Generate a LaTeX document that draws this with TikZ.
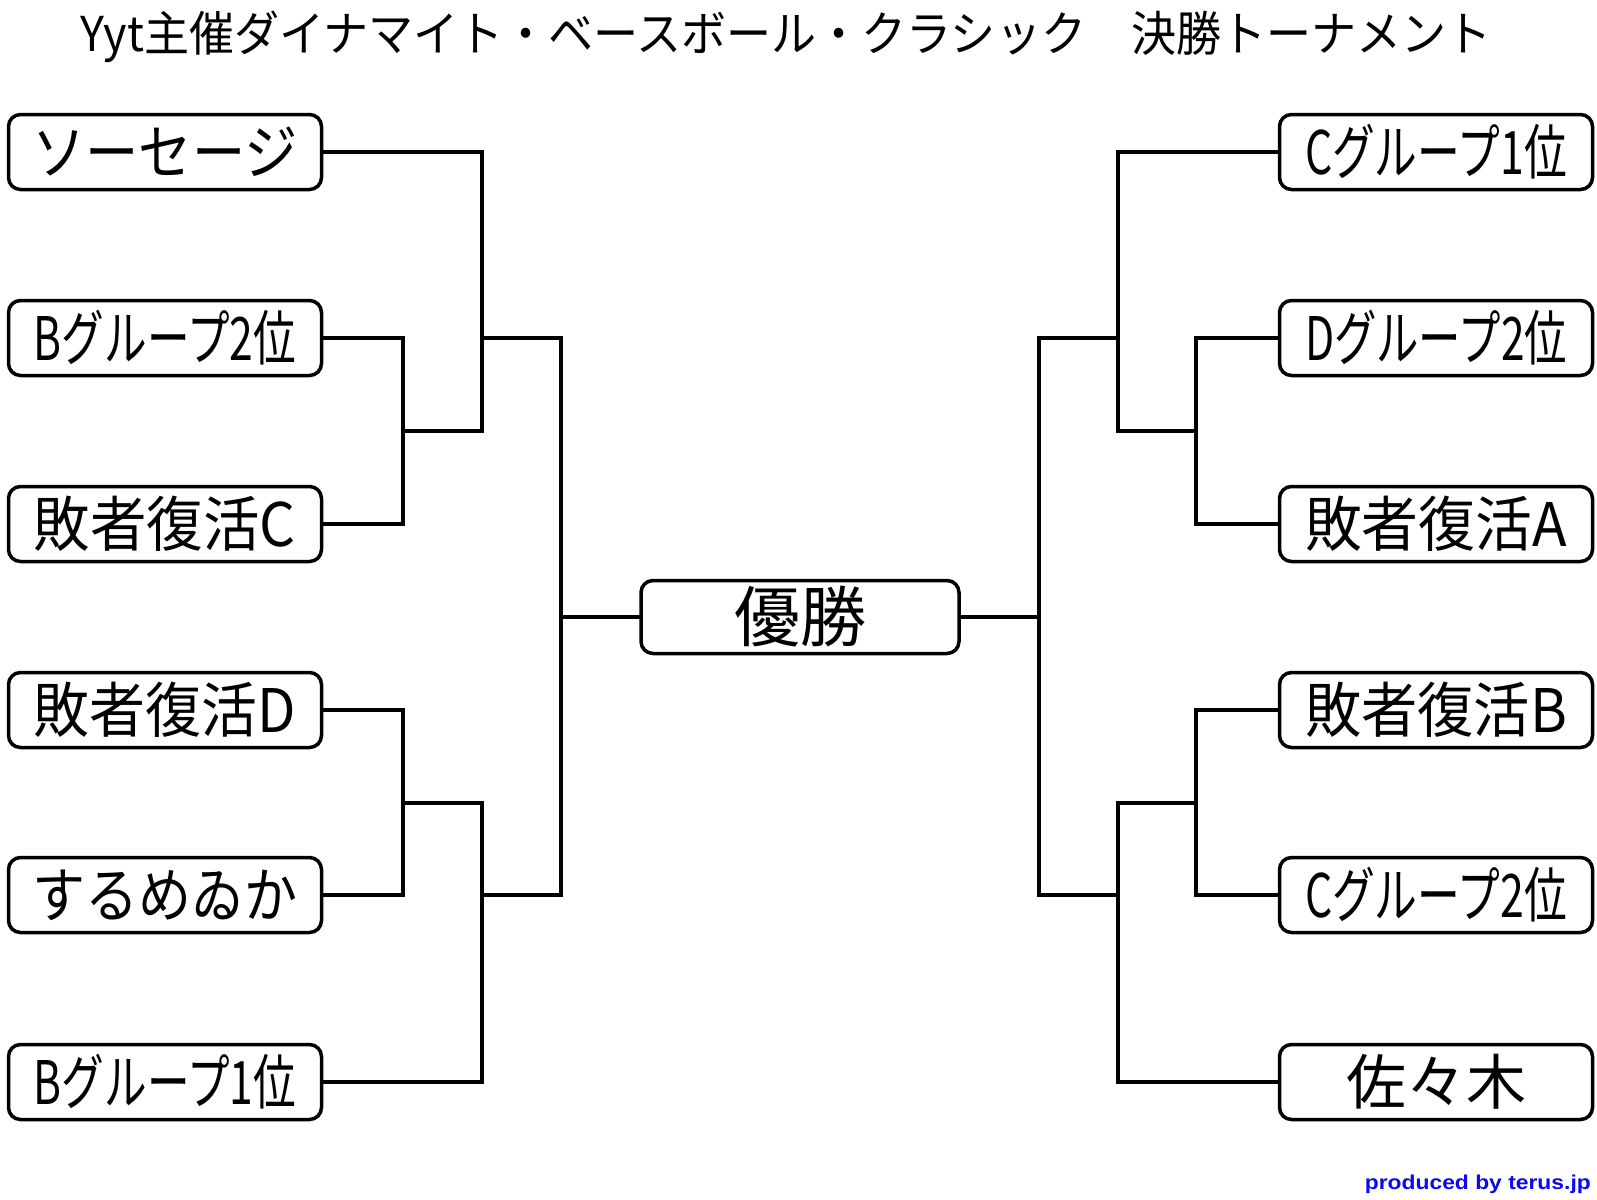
\documentclass[tikz,border=0pt]{standalone}
\usepackage{fontspec}
\usepackage{graphicx}
\setmainfont{Noto Sans CJK JP}
\newfontfamily\footfont{Liberation Sans}
\newcommand\fitw[2]{\sbox0{#2}\ifdim\wd0>#1\relax\resizebox{#1}{\height}{#2}\else\usebox0\fi}
\definecolor{footblue}{RGB}{10,10,235}
\tikzset{
  team/.style={draw, line width=3.5pt, rounded corners=12pt, minimum width=313pt,
    minimum height=75pt, inner sep=0pt, font=\fontsize{60}{66}\selectfont},
  champ/.style={team, minimum width=318pt, minimum height=73pt, font=\fontsize{66}{72}\selectfont},
  wire/.style={line width=3.5pt, line cap=rect},
}
\begin{document}
\begin{tikzpicture}[x=1pt,y=-1pt]
\useasboundingbox (0,0) rectangle (1597,1199);
% title
\node (title) at (786,37) {\fontsize{48}{54}\selectfont\resizebox{1411pt}{\height}{Yyt主催ダイナマイト・ベースボール・クラシック　決勝トーナメント}};
% left teams
\node[team] (L1) at (165,152) {\fitw{265pt}{ソーセージ}};
\node[team] (L2) at (165,338) {\fitw{262pt}{Bグループ2位}};
\node[team] (L3) at (165,524) {\fitw{262pt}{敗者復活C}};
\node[team] (L4) at (165,710) {\fitw{262pt}{敗者復活D}};
\node[team] (L5) at (165,895) {\fitw{265pt}{するめゐか}};
\node[team] (L6) at (165,1082) {\fitw{262pt}{Bグループ1位}};
% right teams
\node[team] (R1) at (1436,152) {\fitw{262pt}{Cグループ1位}};
\node[team] (R2) at (1436,338) {\fitw{262pt}{Dグループ2位}};
\node[team] (R3) at (1436,524) {\fitw{262pt}{敗者復活A}};
\node[team] (R4) at (1436,710) {\fitw{262pt}{敗者復活B}};
\node[team] (R5) at (1436,895) {\fitw{262pt}{Cグループ2位}};
\node[team] (R6) at (1436,1082) {\fitw{262pt}{佐々木}};
% champion
\node[champ] (C) at (800,617) {優勝};
% footer
\node[anchor=east, text=footblue, inner sep=0pt] (foot) at (1591,1184)
  {\footfont\bfseries\fontsize{20}{24}\selectfont\resizebox{226pt}{\height}{produced by terus.jp}};
% left bracket coordinates
\coordinate (la) at (403,431);
\coordinate (lb) at (482,431);
\coordinate (lc) at (482,338);
\coordinate (ld) at (561,338);
\coordinate (le) at (403,803);
\coordinate (lf) at (482,803);
\coordinate (lg) at (482,895);
\coordinate (lh) at (561,895);
% right bracket coordinates
\coordinate (ra) at (1196,431);
\coordinate (rb) at (1118,431);
\coordinate (rc) at (1118,338);
\coordinate (rd) at (1039,338);
\coordinate (re) at (1196,803);
\coordinate (rf) at (1118,803);
\coordinate (rg) at (1118,895);
\coordinate (rh) at (1039,895);
% left wires
\draw[wire] (L2.east) -| (la) |- (L3.east);
\draw[wire] (la) -- (lb);
\draw[wire] (L1.east) -| (lb);
\draw[wire] (lc) -- (ld);
\draw[wire] (L4.east) -| (le) |- (L5.east);
\draw[wire] (le) -- (lf) |- (L6.east);
\draw[wire] (lg) -- (lh);
\draw[wire] (ld) |- (C.west);
\draw[wire] (lh) |- (C.west);
% right wires
\draw[wire] (R2.west) -| (ra) |- (R3.west);
\draw[wire] (ra) -- (rb);
\draw[wire] (R1.west) -| (rb);
\draw[wire] (rc) -- (rd);
\draw[wire] (R4.west) -| (re) |- (R5.west);
\draw[wire] (re) -- (rf) |- (R6.west);
\draw[wire] (rg) -- (rh);
\draw[wire] (rd) |- (C.east);
\draw[wire] (rh) |- (C.east);
\end{tikzpicture}
\end{document}
